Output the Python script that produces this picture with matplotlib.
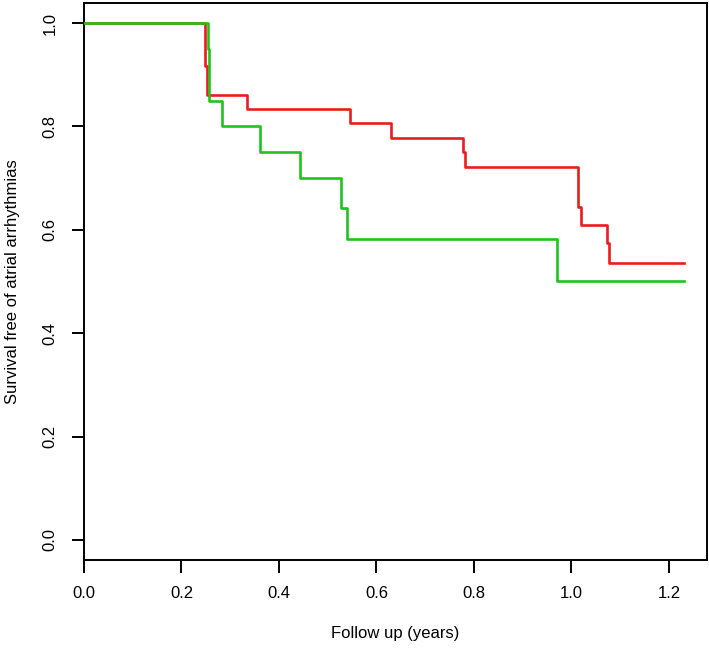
import matplotlib
matplotlib.use("Agg")
import matplotlib.pyplot as plt

# Kaplan-Meier step data
red_times = [0.0, 0.249, 0.253, 0.334, 0.545, 0.630, 0.778, 0.782, 1.013, 1.019, 1.073, 1.077]
red_surv = [1.0, 0.917, 0.861, 0.833, 0.806, 0.778, 0.750, 0.722, 0.645, 0.609, 0.574, 0.536]
red_end = 1.231

green_times = [0.0, 0.254, 0.256, 0.284, 0.361, 0.444, 0.527, 0.540, 0.970]
green_surv = [1.0, 0.950, 0.850, 0.800, 0.750, 0.700, 0.642, 0.583, 0.500]
green_end = 1.231

x_ticks = [0.0, 0.2, 0.4, 0.6, 0.8, 1.0, 1.2]
y_ticks = [0.0, 0.2, 0.4, 0.6, 0.8, 1.0]

plt.rcParams['font.family'] = ['Liberation Sans', 'DejaVu Sans']

W, H = 709, 649
fig = plt.figure(figsize=(W / 100, H / 100), dpi=100)
left, right, bottom, top = 84, 707, 560, 3
ax = fig.add_axes([left / W, (H - bottom) / H, (right - left) / W, (bottom - top) / H])

ax.step(red_times + [red_end], red_surv + [red_surv[-1]], where='post',
        color='#ec1c1c', lw=1.9, zorder=2)
ax.step(green_times + [green_end], green_surv + [green_surv[-1]], where='post',
        color='#1ec41e', lw=1.9, zorder=3)

ax.set_xlim(0, 1.278)
ax.set_ylim(-0.0387, 1.0387)
ax.set_xticks(x_ticks)
ax.set_xticklabels([f"{v:.1f}" for v in x_ticks])
ax.set_yticks(y_ticks)
ax.set_yticklabels([f"{v:.1f}" for v in y_ticks], rotation=90, va='center')

for s in ax.spines.values():
    s.set_linewidth(1.4)
    s.set_color('black')
ax.tick_params(axis='both', length=9, width=1.4, labelsize=12, color='black')
ax.tick_params(axis='x', pad=10)
ax.tick_params(axis='y', pad=10)

ax.set_xlabel("Follow up (years)", fontsize=12, labelpad=18)
fig.text(13 / W, 1 - ((bottom + top) / 2) / H, "Survival free of atrial arrhythmias",
         rotation=90, ha='center', va='center', fontsize=12)

fig.savefig("out.png", dpi=100)
